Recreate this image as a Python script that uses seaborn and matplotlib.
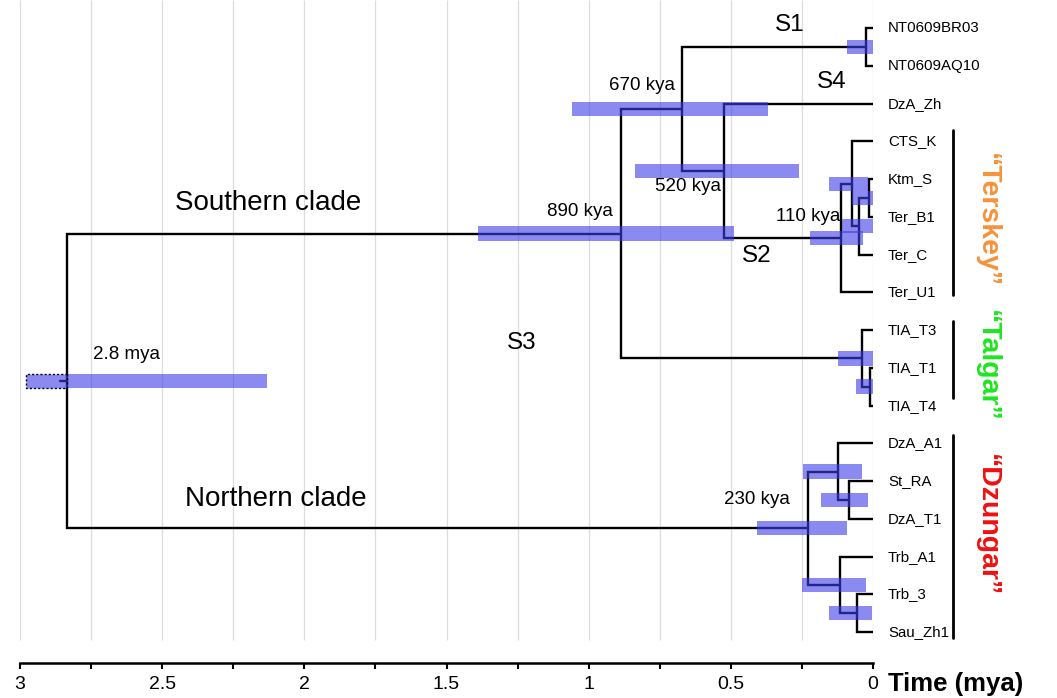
# -*- coding: utf-8 -*-
"""
Dated phylogeny: node ages with 95% HPD bars, clades and groups.
"""

import numpy as np
import seaborn as sns
import matplotlib.pyplot as plt
from matplotlib import font_manager
from matplotlib.ticker import MultipleLocator, FormatStrFormatter

# ---- data -------------------------------------------------------------
leaf_names = ["NT0609BR03", "NT0609AQ10", "DzA_Zh", "CTS_K", "Ktm_S", "Ter_B1",
              "Ter_C", "Ter_U1", "TIA_T3", "TIA_T1", "TIA_T4", "DzA_A1", "St_RA",
              "DzA_T1", "Trb_A1", "Trb_3", "Sau_Zh1"]

# internal nodes in post-order (children are defined before parents)
node_names = ["nt", "kb", "kbc", "ctk", "n110", "n520", "n670", "t14", "tal",
              "n890", "srt", "dza", "tsz", "trb", "n230", "root"]
node_children = [("NT0609BR03", "NT0609AQ10"), ("Ktm_S", "Ter_B1"), ("kb", "Ter_C"),
                 ("CTS_K", "kbc"), ("ctk", "Ter_U1"), ("DzA_Zh", "n110"),
                 ("nt", "n520"), ("TIA_T1", "TIA_T4"), ("TIA_T3", "t14"),
                 ("n670", "tal"), ("St_RA", "DzA_T1"), ("DzA_A1", "srt"),
                 ("Trb_3", "Sau_Zh1"), ("Trb_A1", "tsz"), ("dza", "trb"),
                 ("n890", "n230")]
node_ages = [0.025, 0.014, 0.05, 0.074, 0.113, 0.525, 0.672, 0.01, 0.04,
             0.886, 0.084, 0.123, 0.056, 0.116, 0.229, 2.835]
hpd_low = [0.0, 0.0, 0.0, 0.018, 0.035, 0.26, 0.37, 0.0, 0.0,
           0.49, 0.018, 0.039, 0.004, 0.025, 0.09, 2.13]
hpd_high = [0.09, 0.074, 0.11, 0.155, 0.22, 0.837, 1.06, 0.06, 0.123,
            1.39, 0.183, 0.246, 0.155, 0.25, 0.408, 2.98]

# text labels on the tree: (text, age, y, fontsize)
tree_labels = [("S1", 0.292, -0.08, 17.5), ("S4", 0.144, 1.43, 17.5),
               ("S2", 0.408, 6.04, 17.5), ("S3", 1.235, 8.35, 17.5),
               ("670 kya", 0.8125, 1.51, 13.5), ("520 kya", 0.65, 4.19, 13.5),
               ("890 kya", 1.03, 4.87, 13.5), ("110 kya", 0.229, 4.98, 13.5),
               ("230 kya", 0.408, 12.48, 13.5), ("2.8 mya", 2.627, 8.66, 13.5),
               ("Southern clade", 2.128, 4.64, 20), ("Northern clade", 2.10, 12.48, 20)]

group_names = ["\u201cTerskey\u201d", "\u201cTalgar\u201d", "\u201cDzungar\u201d"]
group_colors = ["#F7923A", "#1EE61E", "#F01010"]
group_top = [2.70, 7.76, 10.78]
group_bottom = [7.07, 9.80, 16.16]
group_label_y = [5.09, 8.95, 13.17]

x_ticks = [3, 2.5, 2, 1.5, 1, 0.5, 0]

# ---- style ------------------------------------------------------------
sns.set_style("white")
plt.rcParams["font.family"] = ["Liberation Sans", "DejaVu Sans"]
plt.rcParams["text.color"] = "black"
plt.rcParams["xtick.color"] = "black"
plt.rcParams["xtick.labelcolor"] = "black"


def has_font(name):
    try:
        font_manager.findfont(font_manager.FontProperties(family=name),
                              fallback_to_default=False)
        return True
    except Exception:
        return False


narrow = "Liberation Sans Narrow" if has_font("Liberation Sans Narrow") else "Liberation Sans"

BAR_COLOR = (60 / 255, 60 / 255, 230 / 255, 0.6)
LW = 1.7

# ---- tree geometry ----------------------------------------------------
pos_y = {name: float(i) for i, name in enumerate(leaf_names)}
age = {name: 0.0 for name in leaf_names}
for name, kids, a in zip(node_names, node_children, node_ages):
    pos_y[name] = float(np.mean([pos_y[k] for k in kids]))
    age[name] = a

fig = plt.figure(figsize=(10.57, 6.98), dpi=100)
ax = fig.add_axes([20 / 1057, 35 / 698, 853 / 1057, 663 / 698])
ax.set_xlim(3, 0)
ax.set_ylim(16.82, -0.742)

# light vertical grid, stopping above the time axis
ax.vlines(np.arange(0, 3.01, 0.25), ymin=-0.742, ymax=16.21,
          color="#dcdcdc", lw=0.9, zorder=0)

# branches as elbows
for name, kids in zip(node_names, node_children):
    for k in kids:
        ax.plot([age[name], age[name], age[k]], [pos_y[name], pos_y[k], pos_y[k]],
                color="black", lw=LW, solid_joinstyle="miter",
                solid_capstyle="butt", zorder=2)
ax.plot([age["root"], age["root"] + 0.025], [pos_y["root"]] * 2,
        color="black", lw=LW, zorder=2)

# HPD bars
for name, a, lo, hi in zip(node_names, node_ages, hpd_low, hpd_high):
    if name == "root":
        ax.barh(pos_y[name], a - lo, left=lo, height=0.38, color=BAR_COLOR,
                lw=0, zorder=3)
        ax.barh(pos_y[name], hi - a, left=a, height=0.38, facecolor=BAR_COLOR,
                edgecolor="black", lw=1.0, linestyle=(0, (1.5, 1.5)), zorder=3)
    else:
        ax.barh(pos_y[name], hi - lo, left=lo, height=0.38, color=BAR_COLOR,
                lw=0, zorder=3)

# leaf names
for name in leaf_names:
    ax.annotate(name, (0, pos_y[name]), xytext=(10.8, 0), textcoords="offset points",
                ha="left", va="center", fontsize=10.8, color="black",
                annotation_clip=False)

for text, x, y, fs in tree_labels:
    ax.text(x, y, text, ha="center", va="center", fontsize=fs, color="black", zorder=5)

# group brackets
for gname, col, top, bot, ly in zip(group_names, group_colors, group_top,
                                    group_bottom, group_label_y):
    ax.plot([-0.281, -0.281], [top, bot], color="black", lw=2.0, clip_on=False)
    ax.text(-0.401, ly, gname, rotation=-90, ha="center", va="center",
            fontsize=20.5, fontweight="bold", color=col, clip_on=False)

# time axis
for side in ["top", "left", "right"]:
    ax.spines[side].set_visible(False)
ax.spines["bottom"].set_linewidth(1.8)
ax.spines["bottom"].set_color("black")
ax.set_xticks(x_ticks)
ax.xaxis.set_major_formatter(FormatStrFormatter("%g"))
ax.xaxis.set_minor_locator(MultipleLocator(0.25))
ax.tick_params(axis="x", which="both", direction="out", length=4.5, width=1.5,
               color="black", pad=5, bottom=True)
ax.tick_params(axis="x", which="major", labelsize=14, labelcolor="black")
for lab in ax.get_xticklabels():
    lab.set_fontfamily(narrow)
ax.set_yticks([])
fig.text(888 / 1057, 1 - 684 / 698, "Time (mya)", ha="left", va="center",
         fontsize=18.5, fontweight="bold", color="black")

fig.savefig("out.png", dpi=100)
plt.close()
